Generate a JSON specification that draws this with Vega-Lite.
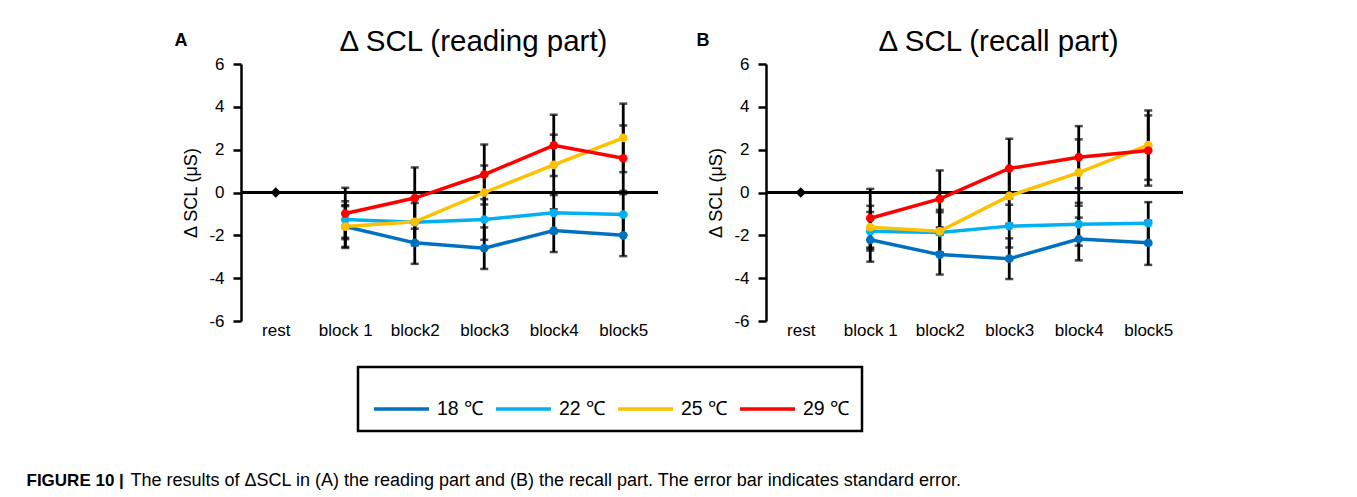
{
  "$schema": "https://vega.github.io/schema/vega-lite/v6.json",
  "autosize": "none",
  "padding": {"left": 241, "top": 64, "right": 1116, "bottom": 433},
  "background": "white",
  "datasets": {
    "scl": [
      {"panel": "A", "temp": "18 ℃", "block": "block 1", "mean": -1.59, "se": 1.0},
      {"panel": "A", "temp": "18 ℃", "block": "block2", "mean": -2.35, "se": 0.98},
      {"panel": "A", "temp": "18 ℃", "block": "block3", "mean": -2.6, "se": 0.97},
      {"panel": "A", "temp": "18 ℃", "block": "block4", "mean": -1.78, "se": 1.0},
      {"panel": "A", "temp": "18 ℃", "block": "block5", "mean": -2.0, "se": 0.97},
      {"panel": "A", "temp": "22 ℃", "block": "block 1", "mean": -1.26, "se": 0.85},
      {"panel": "A", "temp": "22 ℃", "block": "block2", "mean": -1.39, "se": 0.9},
      {"panel": "A", "temp": "22 ℃", "block": "block3", "mean": -1.26, "se": 0.95},
      {"panel": "A", "temp": "22 ℃", "block": "block4", "mean": -0.95, "se": 0.95},
      {"panel": "A", "temp": "22 ℃", "block": "block5", "mean": -1.03, "se": 0.95},
      {"panel": "A", "temp": "25 ℃", "block": "block 1", "mean": -1.59, "se": 0.95},
      {"panel": "A", "temp": "25 ℃", "block": "block2", "mean": -1.37, "se": 1.1},
      {"panel": "A", "temp": "25 ℃", "block": "block3", "mean": 0.0, "se": 1.26},
      {"panel": "A", "temp": "25 ℃", "block": "block4", "mean": 1.29, "se": 1.41},
      {"panel": "A", "temp": "25 ℃", "block": "block5", "mean": 2.55, "se": 1.6},
      {"panel": "A", "temp": "29 ℃", "block": "block 1", "mean": -0.98, "se": 1.2},
      {"panel": "A", "temp": "29 ℃", "block": "block2", "mean": -0.26, "se": 1.43},
      {"panel": "A", "temp": "29 ℃", "block": "block3", "mean": 0.84, "se": 1.4},
      {"panel": "A", "temp": "29 ℃", "block": "block4", "mean": 2.2, "se": 1.43},
      {"panel": "A", "temp": "29 ℃", "block": "block5", "mean": 1.6, "se": 1.53},
      {"panel": "B", "temp": "18 ℃", "block": "block 1", "mean": -2.21, "se": 1.02},
      {"panel": "B", "temp": "18 ℃", "block": "block2", "mean": -2.9, "se": 0.93},
      {"panel": "B", "temp": "18 ℃", "block": "block3", "mean": -3.09, "se": 0.95},
      {"panel": "B", "temp": "18 ℃", "block": "block4", "mean": -2.17, "se": 1.0},
      {"panel": "B", "temp": "18 ℃", "block": "block5", "mean": -2.35, "se": 1.03},
      {"panel": "B", "temp": "22 ℃", "block": "block 1", "mean": -1.81, "se": 0.9},
      {"panel": "B", "temp": "22 ℃", "block": "block2", "mean": -1.87, "se": 0.95},
      {"panel": "B", "temp": "22 ℃", "block": "block3", "mean": -1.57, "se": 1.0},
      {"panel": "B", "temp": "22 ℃", "block": "block4", "mean": -1.48, "se": 1.0},
      {"panel": "B", "temp": "22 ℃", "block": "block5", "mean": -1.43, "se": 0.98},
      {"panel": "B", "temp": "25 ℃", "block": "block 1", "mean": -1.62, "se": 1.0},
      {"panel": "B", "temp": "25 ℃", "block": "block2", "mean": -1.81, "se": 1.0},
      {"panel": "B", "temp": "25 ℃", "block": "block3", "mean": -0.16, "se": 1.3},
      {"panel": "B", "temp": "25 ℃", "block": "block4", "mean": 0.93, "se": 1.55},
      {"panel": "B", "temp": "25 ℃", "block": "block5", "mean": 2.21, "se": 1.62},
      {"panel": "B", "temp": "29 ℃", "block": "block 1", "mean": -1.2, "se": 1.37},
      {"panel": "B", "temp": "29 ℃", "block": "block2", "mean": -0.3, "se": 1.33},
      {"panel": "B", "temp": "29 ℃", "block": "block3", "mean": 1.12, "se": 1.39},
      {"panel": "B", "temp": "29 ℃", "block": "block4", "mean": 1.65, "se": 1.45},
      {"panel": "B", "temp": "29 ℃", "block": "block5", "mean": 1.96, "se": 1.64}
    ],
    "rest": [{"block": "rest", "mean": 0}]
  },
  "spacing": 108,
  "bounds": "flush",
  "hconcat": [
    {
      "width": 417,
      "height": 257,
      "title": {"text": "Δ SCL (reading part)", "fontSize": 29.5, "fontWeight": "normal", "font": "Liberation Sans", "color": "black", "dx": 24, "dy": 37, "offset": -12, "baseline": "alphabetic"},
      "data": {"name": "scl"},
      "transform": [{"filter": "datum.panel === 'A'"}],
      "encoding": {
        "y": {"field": "mean", "type": "quantitative", "scale": {"domain": [-6, 6], "nice": false, "zero": false},
          "axis": {"values": [-6, -4, -2, 0, 2, 4, 6], "labelExpr": "datum.value", "title": "Δ SCL (μS)", "encode": {"ticks": {"update": {"x": {"value": 8}}}}}}
      },
      "resolve": {"axis": {"x": "independent"}},
      "layer": [
        {"mark": {"type": "rule", "color": "black", "strokeWidth": 2.5}, "encoding": {"y": {"datum": 0}}},
        {
          "mark": {"type": "errorbar", "ticks": {"color": "black", "size": 8, "thickness": 2.5}, "rule": {"color": "black", "strokeWidth": 2.8}},
          "encoding": {
            "x": {"field": "block", "type": "nominal", "scale": {"type": "point", "padding": 0.5, "domain": ["rest", "block 1", "block2", "block3", "block4", "block5"]},
              "axis": {"orient": "bottom", "domain": false, "ticks": false, "labelAngle": 0, "labelPadding": 1, "title": "FIGURE 10 |", "titleX": -215, "titleY": 164, "titleAlign": "left", "titleAnchor": "start", "titleBaseline": "alphabetic", "titleFontSize": 17, "titleFontWeight": "bold"}},
            "yError": {"field": "se"}
          }
        },
        {
          "mark": {"type": "line", "strokeWidth": 3.5},
          "encoding": {
            "x": {"field": "block", "type": "nominal", "axis": null},
            "color": {"field": "temp", "type": "nominal", "scale": {"domain": ["18 ℃", "22 ℃", "25 ℃", "29 ℃"], "range": ["#0070C0", "#00B0F0", "#FFC000", "#FF0000"]},
              "legend": {"orient": "none", "legendX": 117, "legendY": 303, "direction": "horizontal", "columns": 4, "title": null, "symbolType": "stroke", "symbolSize": 3025, "symbolStrokeWidth": 3.5, "labelFontSize": 19.5, "labelColor": "black", "labelOffset": 6, "columnPadding": 5, "strokeColor": "black", "padding": 12.5, "symbolOffset": 1.5,
                "encode": {"legend": {"update": {"stroke": {"value": "black"}, "strokeWidth": {"value": 2.5}}}}}}
          }
        },
        {
          "mark": {"type": "circle", "size": 75, "opacity": 1},
          "encoding": {
            "x": {"field": "block", "type": "nominal", "axis": null},
            "color": {"field": "temp", "type": "nominal", "legend": null}
          }
        },
        {
          "data": {"name": "rest"},
          "mark": {"type": "point", "shape": "diamond", "filled": true, "color": "black", "size": 110, "opacity": 1},
          "encoding": {
            "x": {"field": "block", "type": "nominal",
              "axis": {"orient": "top", "domain": false, "ticks": false, "labels": false, "title": "A", "titleX": -67, "titleY": -19, "titleAlign": "left", "titleAnchor": "start", "titleBaseline": "alphabetic", "titleFontSize": 18, "titleFontWeight": "bold"}}
          }
        }
      ]
    },
    {
      "width": 417,
      "height": 257,
      "title": {"text": "Δ SCL (recall part)", "fontSize": 29.5, "fontWeight": "normal", "font": "Liberation Sans", "color": "black", "dx": 24, "dy": 37, "offset": -12, "baseline": "alphabetic"},
      "data": {"name": "scl"},
      "transform": [{"filter": "datum.panel === 'B'"}],
      "encoding": {
        "y": {"field": "mean", "type": "quantitative", "scale": {"domain": [-6, 6], "nice": false, "zero": false},
          "axis": {"values": [-6, -4, -2, 0, 2, 4, 6], "labelExpr": "datum.value", "title": "Δ SCL (μS)", "encode": {"ticks": {"update": {"x": {"value": 8}}}}}}
      },
      "resolve": {"axis": {"x": "independent"}},
      "layer": [
        {"mark": {"type": "rule", "color": "black", "strokeWidth": 2.5}, "encoding": {"y": {"datum": 0}}},
        {
          "mark": {"type": "errorbar", "ticks": {"color": "black", "size": 8, "thickness": 2.5}, "rule": {"color": "black", "strokeWidth": 2.8}},
          "encoding": {
            "x": {"field": "block", "type": "nominal", "scale": {"type": "point", "padding": 0.5, "domain": ["rest", "block 1", "block2", "block3", "block4", "block5"]},
              "axis": {"orient": "bottom", "domain": false, "ticks": false, "labelAngle": 0, "labelPadding": 1, "title": "The results of ΔSCL in (A) the reading part and (B) the recall part. The error bar indicates standard error.", "titleX": -636, "titleY": 164, "titleAlign": "left", "titleAnchor": "start", "titleBaseline": "alphabetic", "titleFontSize": 18, "titleFontWeight": "normal"}},
            "yError": {"field": "se"}
          }
        },
        {
          "mark": {"type": "line", "strokeWidth": 3.5},
          "encoding": {
            "x": {"field": "block", "type": "nominal", "axis": null},
            "color": {"field": "temp", "type": "nominal",
              "legend": {"orient": "none", "legendX": 117, "legendY": 303, "direction": "horizontal", "columns": 4, "title": null, "symbolType": "stroke", "symbolSize": 3025, "symbolStrokeWidth": 3.5, "labelFontSize": 19.5, "labelColor": "black", "labelOffset": 6, "columnPadding": 5, "strokeColor": "black", "padding": 12.5, "symbolOffset": 1.5,
                "encode": {"legend": {"update": {"stroke": {"value": "black"}, "strokeWidth": {"value": 2.5}}}}}}
          }
        },
        {
          "mark": {"type": "circle", "size": 75, "opacity": 1},
          "encoding": {
            "x": {"field": "block", "type": "nominal", "axis": null},
            "color": {"field": "temp", "type": "nominal", "legend": null}
          }
        },
        {
          "data": {"name": "rest"},
          "mark": {"type": "point", "shape": "diamond", "filled": true, "color": "black", "size": 110, "opacity": 1},
          "encoding": {
            "x": {"field": "block", "type": "nominal",
              "axis": {"orient": "top", "domain": false, "ticks": false, "labels": false, "title": "B", "titleX": -70, "titleY": -19, "titleAlign": "left", "titleAnchor": "start", "titleBaseline": "alphabetic", "titleFontSize": 18, "titleFontWeight": "bold"}}
          }
        }
      ]
    }
  ],
  "config": {
    "font": "Liberation Sans",
    "view": {"stroke": null},
    "axis": {"labelFontSize": 17, "labelColor": "black", "labelFont": "Liberation Sans", "titleColor": "black", "titleFont": "Liberation Sans", "grid": false, "domainColor": "black", "domainWidth": 2.5, "tickColor": "black", "tickWidth": 2.5},
    "axisY": {"tickSize": 8, "labelPadding": 9, "titleFontSize": 18, "titleFontWeight": "normal", "titlePadding": 8},
    "legend": {"labelFont": "Liberation Sans"}
  }
}
